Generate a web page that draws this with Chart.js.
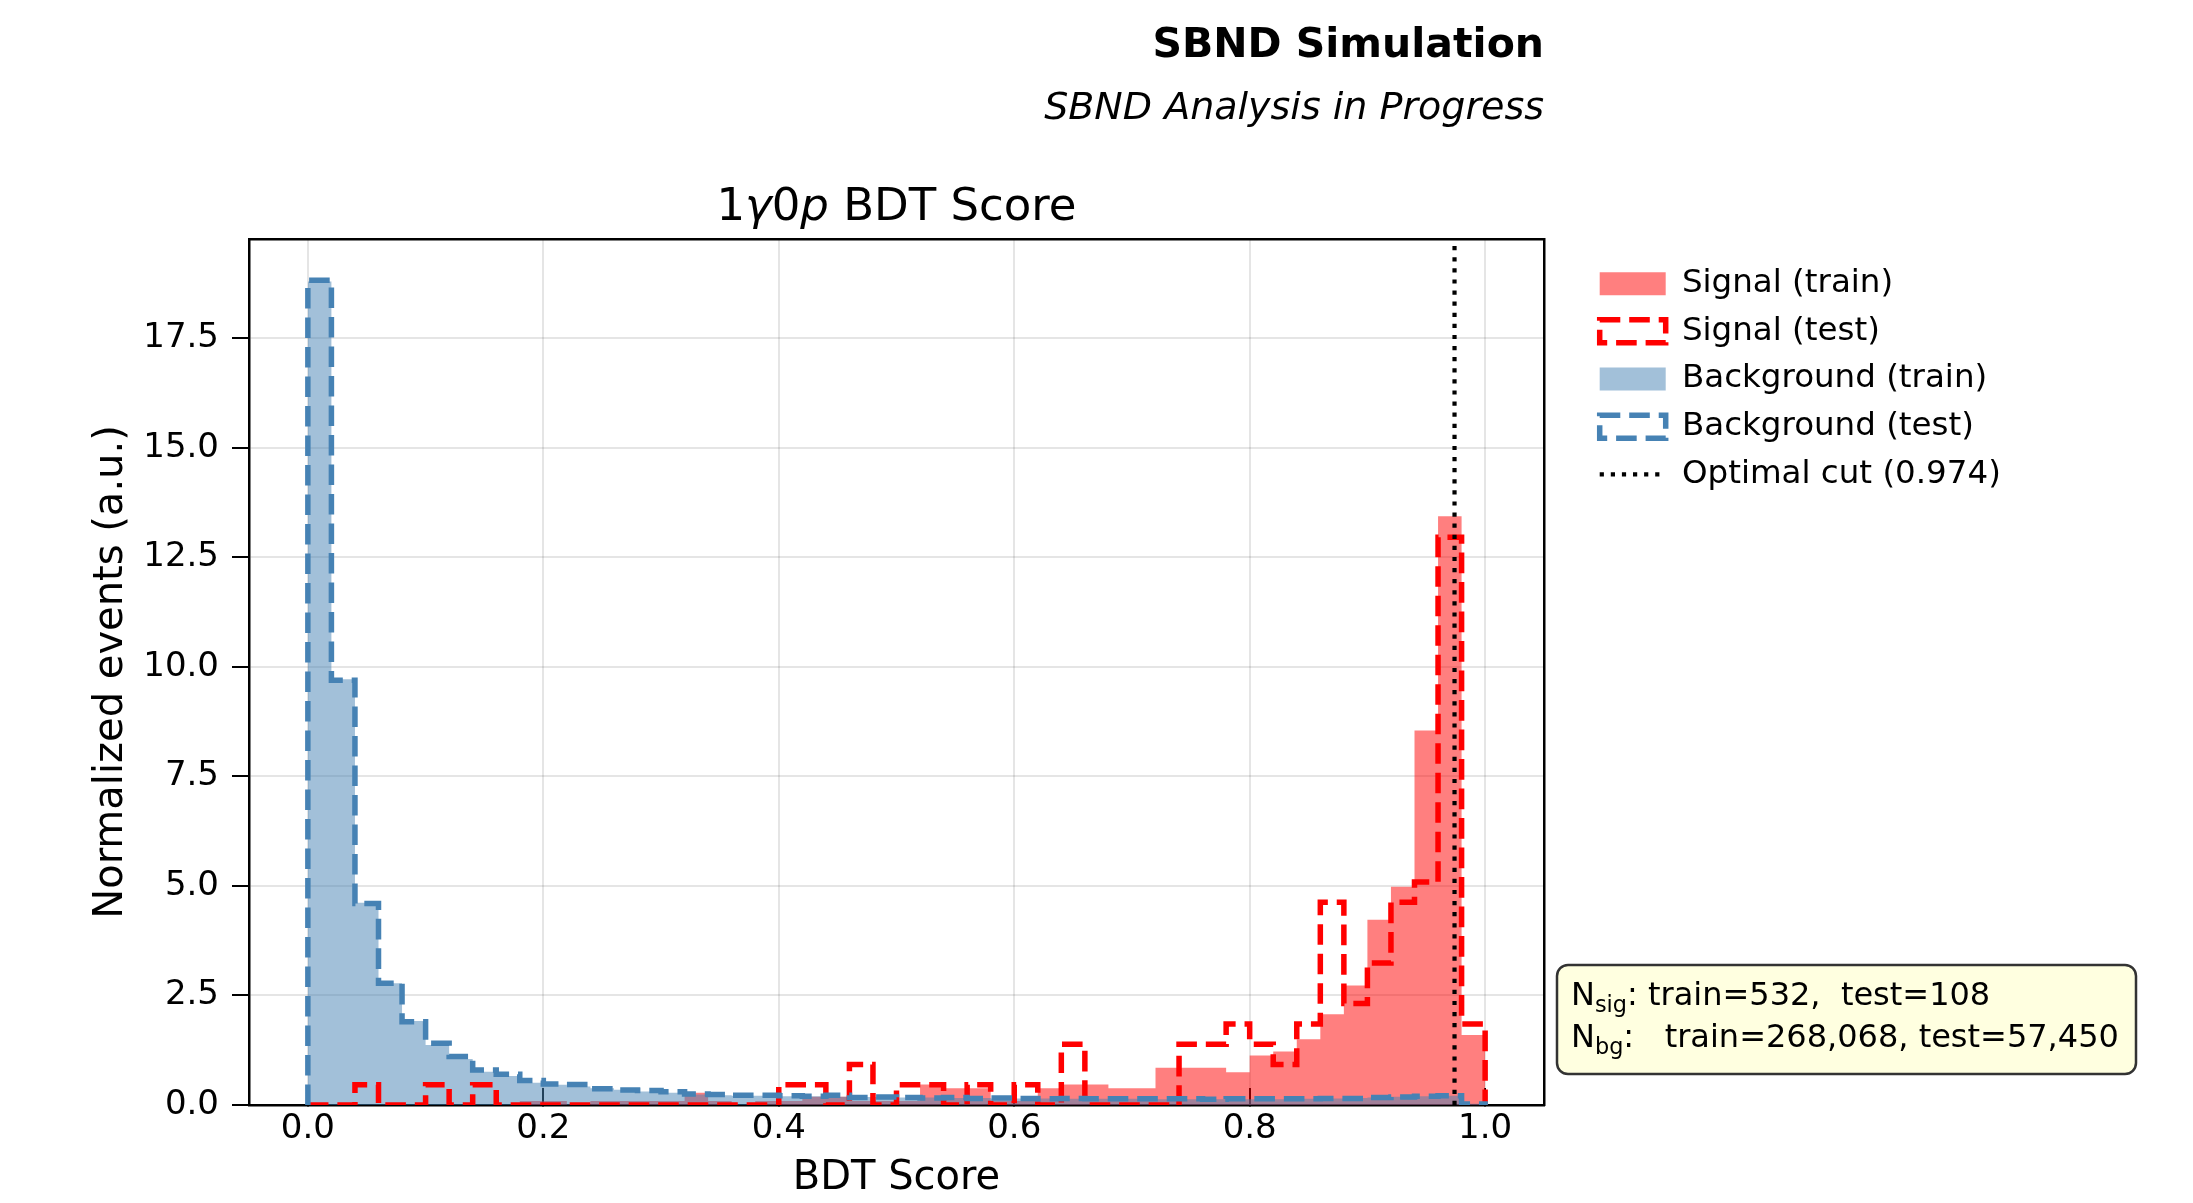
<!DOCTYPE html>
<html>
<head>
<meta charset="utf-8">
<title>1γ0p BDT Score</title>
<script src="https://cdn.jsdelivr.net/npm/chart.js@4/dist/chart.umd.min.js"></script>
<style>
  html, body { margin: 0; padding: 0; background: #fff; }
</style>
</head>
<body>
<canvas id="bdtChart" width="2193" height="1203"></canvas>
<script>
const FONT = '"DejaVu Sans", sans-serif';

// 50 bins of width 0.02 on [0, 1]
const binWidth = 0.02;
const binEdges = Array.from({ length: 50 }, (_, i) => +(i * binWidth).toFixed(2));

// normalized bin contents
const sigTrain = [
  0, 0, 0, 0, 0, 0, 0, 0, 0, 0.09,
  0.09, 0, 0.09, 0.09, 0.09, 0.09, 0.28, 0.09, 0, 0.09,
  0.09, 0.19, 0.19, 0.09, 0.09, 0.09, 0.47, 0.38, 0.38, 0.09,
  0.09, 0.38, 0.47, 0.47, 0.38, 0.38, 0.85, 0.85, 0.85, 0.75,
  1.13, 1.22, 1.50, 2.07, 2.73, 4.23, 4.98, 8.55, 13.44, 1.60
];
const sigTest = [
  0, 0, 0.463, 0, 0, 0.463, 0, 0.463, 0, 0,
  0, 0, 0, 0, 0, 0, 0, 0, 0, 0,
  0.463, 0.463, 0, 0.926, 0, 0.463, 0.463, 0, 0.463, 0,
  0.463, 0, 1.389, 0, 0, 0, 0, 1.389, 1.389, 1.852,
  1.389, 0.926, 1.852, 4.63, 2.315, 3.241, 4.63, 5.093, 12.963, 1.852
];
const bgTrain = [
  18.80, 9.72, 4.62, 2.78, 1.92, 1.37, 1.05, 0.76, 0.66, 0.51,
  0.46, 0.42, 0.38, 0.35, 0.31, 0.28, 0.24, 0.22, 0.21, 0.21,
  0.20, 0.20, 0.19, 0.18, 0.18, 0.17, 0.17, 0.16, 0.16, 0.15,
  0.15, 0.15, 0.14, 0.14, 0.14, 0.14, 0.13, 0.13, 0.13, 0.13,
  0.13, 0.13, 0.14, 0.15, 0.16, 0.17, 0.19, 0.20, 0.21, 0.03
];
const bgTest = [
  18.83, 9.70, 4.60, 2.78, 1.90, 1.41, 1.11, 0.80, 0.70, 0.56,
  0.48, 0.47, 0.37, 0.34, 0.33, 0.30, 0.25, 0.24, 0.22, 0.22,
  0.21, 0.20, 0.22, 0.17, 0.18, 0.17, 0.16, 0.17, 0.15, 0.16,
  0.15, 0.14, 0.15, 0.14, 0.14, 0.14, 0.14, 0.14, 0.13, 0.14,
  0.14, 0.14, 0.14, 0.15, 0.15, 0.17, 0.18, 0.20, 0.21, 0.02
];

const cutValue = 0.974;
const xTicks = [0, 0.2, 0.4, 0.6, 0.8, 1.0];
const yTicks = [0, 2.5, 5, 7.5, 10, 12.5, 15, 17.5];
const seriesLabels = ['Signal (train)', 'Signal (test)', 'Background (train)', 'Background (test)',
  `Optimal cut (${cutValue})`];
const nSig = { train: 532, test: 108 };
const nBg = { train: 268068, test: 57450 };

// matplotlib-like 5% headroom
const yMax = 1.05 * Math.max(...sigTrain, ...sigTest, ...bgTrain, ...bgTest);

// outline of a histogram: start and end on the baseline
function stepPoints(vals) {
  const pts = [{ x: 0, y: 0 }];
  vals.forEach((v, i) => pts.push({ x: binEdges[i], y: v }));
  pts.push({ x: 1, y: 0 });
  return pts;
}

const RED = '#ff0000';
const BLUE = '#4682b4';
const DASH = [20.6, 8.9];
const DOTS = [4.2, 6.9];

// legend geometry: fixed legend width so the frame keeps its place
const LEGEND_FONT = 32.5, LEGEND_PAD = 15.2, HANDLE_W = 66;
const measure = document.createElement('canvas').getContext('2d');
measure.font = `${LEGEND_FONT}px ${FONT}`;
const legendWidth = LEGEND_PAD + HANDLE_W + LEGEND_FONT / 2 +
  Math.max(...seriesLabels.map(t => measure.measureText(t).width)) + 9.5;
const legendSpace = 2193 - 1584.5; // legend's left edge sits at x = 1584.5
const padRight = Math.max(0, legendSpace - legendWidth);

function drawRuns(ctx, runs, x, y, size, align) {
  const fontFor = r => `${r.italic ? 'italic ' : ''}${r.sub ? size * 0.7 : size}px ${FONT}`;
  let total = 0;
  runs.forEach(r => { ctx.font = fontFor(r); r.w = ctx.measureText(r.t).width; total += r.w; });
  let cx = align === 'center' ? x - total / 2 : x;
  runs.forEach(r => {
    ctx.font = fontFor(r);
    ctx.fillText(r.t, cx, y + (r.sub ? size * 0.21 : 0));
    cx += r.w;
  });
}

// axes title with math-style runs, plus the stats box
const annotations = {
  id: 'annotations',
  afterDraw(chart) {
    const { ctx, chartArea } = chart;
    ctx.save();
    ctx.fillStyle = '#000';
    ctx.textBaseline = 'alphabetic';
    drawRuns(ctx, [
      { t: '1' }, { t: 'γ', italic: true }, { t: '0' }, { t: 'p', italic: true }, { t: ' BDT Score' }
    ], (chartArea.left + chartArea.right) / 2, 220.4, 45, 'center');

    const bx = chartArea.right + 13, by = 965, bw = 579, bh = 109;
    ctx.beginPath();
    ctx.roundRect(bx, by, bw, bh, 11);
    ctx.fillStyle = '#ffffe0';
    ctx.fill();
    ctx.lineWidth = 2.5;
    ctx.strokeStyle = '#333';
    ctx.stroke();
    ctx.fillStyle = '#000';
    const fmt = n => n.toLocaleString('en-US');
    drawRuns(ctx, [{ t: 'N' }, { t: 'sig', sub: true }, { t: `: train=${fmt(nSig.train)},  test=${fmt(nSig.test)}` }],
      bx + 14, 1005, 32, 'left');
    drawRuns(ctx, [{ t: 'N' }, { t: 'bg', sub: true }, { t: `:   train=${fmt(nBg.train)}, test=${fmt(nBg.test)}` }],
      bx + 14, 1047, 32, 'left');
    ctx.restore();
  }
};

const ctx = document.getElementById('bdtChart').getContext('2d');

const bdtChart = new Chart(ctx, {
  type: 'line',
  data: {
    datasets: [
      {
        label: seriesLabels[0], data: stepPoints(sigTrain), order: 5,
        stepped: 'before', fill: 'origin', backgroundColor: 'rgba(255,0,0,0.5)', borderWidth: 0, pointRadius: 0,
        legendStyle: { pointStyle: 'rect', fillStyle: 'rgba(255,0,0,0.5)', strokeStyle: 'rgba(0,0,0,0)', lineWidth: 0 }
      },
      {
        label: seriesLabels[1], data: stepPoints(sigTest), order: 3,
        stepped: 'before', fill: false, borderColor: RED, borderWidth: 5.5, borderDash: DASH, pointRadius: 0,
        legendStyle: { pointStyle: 'rect', fillStyle: 'rgba(0,0,0,0)', strokeStyle: RED, lineWidth: 5.5, lineDash: DASH }
      },
      {
        label: seriesLabels[2], data: stepPoints(bgTrain), order: 4,
        stepped: 'before', fill: 'origin', backgroundColor: 'rgba(70,130,180,0.5)', borderWidth: 0, pointRadius: 0,
        legendStyle: { pointStyle: 'rect', fillStyle: 'rgba(70,130,180,0.5)', strokeStyle: 'rgba(0,0,0,0)', lineWidth: 0 }
      },
      {
        label: seriesLabels[3], data: stepPoints(bgTest), order: 2,
        stepped: 'before', fill: false, borderColor: BLUE, borderWidth: 5.5, borderDash: DASH, pointRadius: 0,
        legendStyle: { pointStyle: 'rect', fillStyle: 'rgba(0,0,0,0)', strokeStyle: BLUE, lineWidth: 5.5, lineDash: DASH }
      },
      {
        label: seriesLabels[4], data: [{ x: cutValue, y: 0 }, { x: cutValue, y: yMax }], order: 1,
        fill: false, borderColor: '#000', borderWidth: 4.2, borderDash: DOTS, pointRadius: 0,
        legendStyle: { pointStyle: 'line', fillStyle: '#000', strokeStyle: '#000', lineWidth: 4.2, lineDash: DOTS }
      }
    ].map(ds => ({ ...ds, xAxisID: 'x', yAxisID: 'y' }))
  },
  options: {
    responsive: false,
    animation: false,
    devicePixelRatio: 1,
    layout: { padding: { left: 0, right: padRight, top: 0, bottom: 0 } },
    plugins: {
      title: {
        display: true, text: 'SBND Simulation', align: 'end', fullSize: false, color: '#000',
        font: { family: FONT, size: 41, weight: 'bold' }, padding: { top: 21.4, bottom: 0 }
      },
      subtitle: {
        display: true, text: 'SBND Analysis in Progress', align: 'end', fullSize: false, color: '#000',
        font: { family: FONT, size: 38, style: 'italic' }, padding: { top: 15.3, bottom: 0 }
      },
      legend: {
        position: 'right', align: 'start', maxWidth: legendWidth,
        title: { display: true, text: '', font: { size: 10 }, padding: { top: 240.2, bottom: 0 } },
        labels: {
          usePointStyle: true, pointStyleWidth: HANDLE_W, boxHeight: 23, padding: LEGEND_PAD,
          color: '#000', font: { family: FONT, size: LEGEND_FONT },
          generateLabels: chart => chart.data.datasets.map((ds, i) => ({
            text: ds.label, datasetIndex: i, hidden: false, fontColor: '#000', ...ds.legendStyle
          }))
        }
      },
      tooltip: { enabled: false }
    },
    scales: {
      x: {
        type: 'linear', position: 'bottom', min: -0.05, max: 1.05, z: 1,
        afterBuildTicks: s => { s.ticks = xTicks.map(v => ({ value: v })); },
        afterFit: s => { s.height = 98; },
        grid: { color: 'rgba(0,0,0,0.1)', lineWidth: 2, tickLength: -17, tickColor: '#000', tickWidth: 2 },
        border: { color: '#000', width: 2.5 },
        ticks: { color: '#000', font: { family: FONT, size: 34 }, padding: 20.9, maxRotation: 0, autoSkip: false,
          callback: v => v.toFixed(1) },
        title: { display: true, text: 'BDT Score', color: '#000', font: { family: FONT, size: 40 },
          padding: { top: 0, bottom: 0.3 } }
      },
      y: {
        type: 'linear', position: 'left', min: 0, max: yMax, z: 1,
        afterBuildTicks: s => { s.ticks = yTicks.map(v => ({ value: v })); },
        afterFit: s => { s.width = 249; },
        grid: { color: 'rgba(0,0,0,0.1)', lineWidth: 2, tickLength: 17, tickColor: '#000', tickWidth: 2 },
        border: { color: '#000', width: 2.5 },
        ticks: { color: '#000', font: { family: FONT, size: 34 }, padding: 13, autoSkip: false,
          callback: v => v.toFixed(1) },
        title: { display: true, text: 'Normalized events (a.u.)', color: '#000', font: { family: FONT, size: 40 },
          padding: { top: 87.6, bottom: 0 } }
      },
      // frame: top and right spines
      x2: {
        type: 'linear', position: 'top', min: 0, max: 1, z: 1,
        afterFit: s => { s.height = 107.5; },
        grid: { drawOnChartArea: false, drawTicks: false },
        ticks: { display: false },
        border: { color: '#000', width: 2.5 }
      },
      y2: {
        type: 'linear', position: 'right', min: 0, max: 1, z: 1,
        afterFit: s => { s.width = 40.5; },
        grid: { drawOnChartArea: false, drawTicks: false },
        ticks: { display: false },
        border: { color: '#000', width: 2.5 }
      }
    }
  },
  plugins: [annotations]
});
</script>
</body>
</html>
